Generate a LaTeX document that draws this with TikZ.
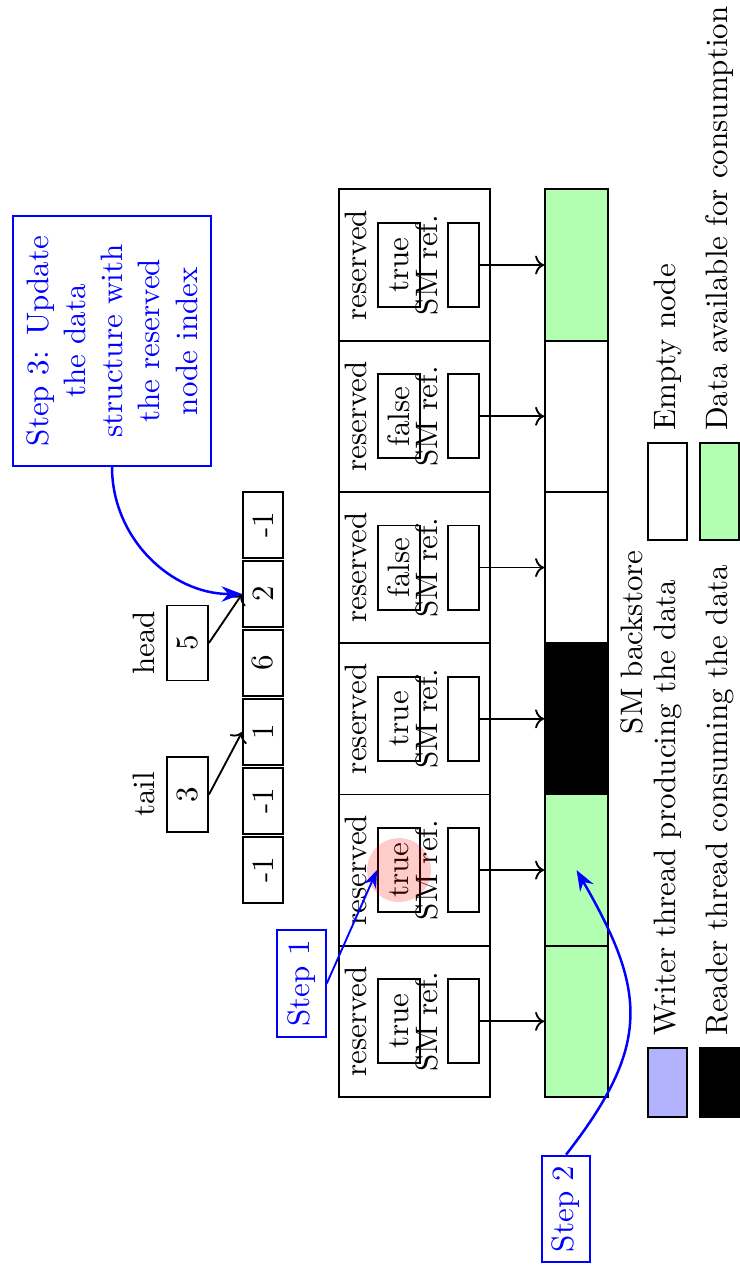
\documentclass[tikz,border=0pt]{standalone}
\usepackage{xcolor}
\usepackage{tikz}
\usetikzlibrary{arrows.meta}

\begin{document}
\begin{tikzpicture}[
x=1cm,
y=1cm,
rotate=90,
transform shape,
semithick,
slot/.style={rectangle,draw,inner sep=0pt,minimum width=1.715cm,minimum height=1.715cm},
flagbox/.style={rectangle,draw,inner sep=0pt,minimum width=0.953cm,minimum height=0.476cm},
refbox/.style={rectangle,draw,inner sep=0pt,minimum width=0.953cm,minimum height=0.352cm},
store/.style={rectangle,draw,inner sep=0pt,minimum width=1.715cm,minimum height=0.714cm},
cell/.style={rectangle,draw,inner sep=0pt,minimum width=0.755cm,minimum height=0.453cm},
ptr/.style={rectangle,draw,inner sep=0pt,minimum width=0.850cm,minimum height=0.465cm},
keybox/.style={rectangle,draw,inner sep=0pt,minimum height=0.442cm},
stepbox/.style={rectangle,draw=blue,text=blue,semithick,align=center},
arr/.style={->},
bluearr/.style={-{Stealth},blue,thick}
]
\useasboundingbox (0,0) rectangle (14.365,8.379);

% node slots
\node[slot] (slot0) at (2.785,3.679) {};
\node[slot] (slot1) at (4.500,3.679) {};
\node[slot] (slot2) at (6.215,3.679) {};
\node[slot] (slot3) at (7.930,3.679) {};
\node[slot] (slot4) at (9.645,3.679) {};
\node[slot] (slot5) at (11.360,3.679) {};
\node[below,inner sep=2pt] (res0) at (slot0.north) {reserved};
\node[below,inner sep=2pt] (res1) at (slot1.north) {reserved};
\node[below,inner sep=2pt] (res2) at (slot2.north) {reserved};
\node[below,inner sep=2pt] (res3) at (slot3.north) {reserved};
\node[below,inner sep=2pt] (res4) at (slot4.north) {reserved};
\node[below,inner sep=2pt] (res5) at (slot5.north) {reserved};
\node[flagbox] (flag0) at (2.785,3.855) {true};
\node[flagbox] (flag1) at (4.500,3.855) {true};
\node[flagbox] (flag2) at (6.215,3.855) {true};
\node[flagbox] (flag3) at (7.930,3.855) {false};
\node[flagbox] (flag4) at (9.645,3.855) {false};
\node[flagbox] (flag5) at (11.360,3.855) {true};
\node[anchor=base] (smref0) at (2.785,3.424) {SM ref.};
\node[anchor=base] (smref1) at (4.500,3.424) {SM ref.};
\node[anchor=base] (smref2) at (6.215,3.424) {SM ref.};
\node[anchor=base] (smref3) at (7.930,3.424) {SM ref.};
\node[anchor=base] (smref4) at (9.645,3.424) {SM ref.};
\node[anchor=base] (smref5) at (11.360,3.424) {SM ref.};
\node[refbox] (ref0) at (2.785,3.124) {};
\node[refbox] (ref1) at (4.500,3.124) {};
\node[refbox] (ref2) at (6.215,3.124) {};
\node[refbox] (ref3) at (7.930,3.124) {};
\node[refbox] (ref4) at (9.645,3.124) {};
\node[refbox] (ref5) at (11.360,3.124) {};

% backstore
\node[store,fill=green!30] (store0) at (2.785,1.842) {};
\node[store,fill=green!30] (store1) at (4.500,1.842) {};
\node[store,fill=black] (store2) at (6.215,1.842) {};
\node[store,fill=white] (store3) at (7.930,1.842) {};
\node[store,fill=white] (store4) at (9.645,1.842) {};
\node[store,fill=green!30] (store5) at (11.360,1.842) {};
\node[below] (storelbl) at (store2.south east) {SM backstore};

% index array
\node[cell] (idx0) at (4.501,5.397) {-1};
\node[cell] (idx1) at (5.283,5.397) {-1};
\node[cell] (idx2) at (6.066,5.397) {1};
\node[cell] (idx3) at (6.848,5.397) {6};
\node[cell] (idx4) at (7.630,5.397) {2};
\node[cell] (idx5) at (8.413,5.397) {-1};
\node[ptr] (tail) at (5.357,6.253) {3};
\node[ptr] (head) at (7.075,6.253) {5};
\node[above] (taillbl) at (tail.north) {tail};
\node[above] (headlbl) at (head.north) {head};

% steps
\node[stepbox,text width=2.6cm,minimum height=2.245cm] (step3) at (10.499,7.109) {Step 3: Update the data structure with the reserved node index};
\node[stepbox] (step1) at (3.214,4.960) {Step 1};
\node[stepbox] (step2) at (0.658,1.961) {Step 2};
\node[circle,fill=red,fill opacity=0.2,inner sep=0pt,minimum size=0.725cm] (hit) at (flag1) {};

% legend
\node[keybox,fill=blue!30,minimum width=0.782cm] (writer) at (2.092,0.811) {};
\node[keybox,fill=black,minimum width=0.782cm] (reader) at (2.092,0.221) {};
\node[keybox,fill=white,minimum width=1.100cm] (empty) at (8.793,0.811) {};
\node[keybox,fill=green!30,minimum width=1.100cm] (avail) at (8.793,0.221) {};
\node[right] (writertxt) at (writer.east) {Writer thread producing the data};
\node[right] (readertxt) at (reader.east) {Reader thread consuming the data};
\node[right] (emptytxt) at (empty.east) {Empty node};
\node[right] (availtxt) at (avail.east) {Data available for consumption};

\draw[arr] (ref0) -- (store0);
\draw[arr] (ref1) -- (store1);
\draw[arr] (ref2) -- (store2);
\draw[arr] (ref3) -- (store3);
\draw[arr] (ref4) -- (store4);
\draw[arr] (ref5) -- (store5);
\draw[arr] (tail.south) -- (idx2.north);
\draw[arr] (head.south) -- (idx4.north);
\draw[bluearr] (step3.west) to[out=180,in=90] (idx4.north);
\draw[bluearr,semithick] (step1.south) -- (flag1.north);
\draw[bluearr] (step2.east) to[out=-38,in=-150,looseness=1.25] (store1.center);
\end{tikzpicture}
\end{document}
